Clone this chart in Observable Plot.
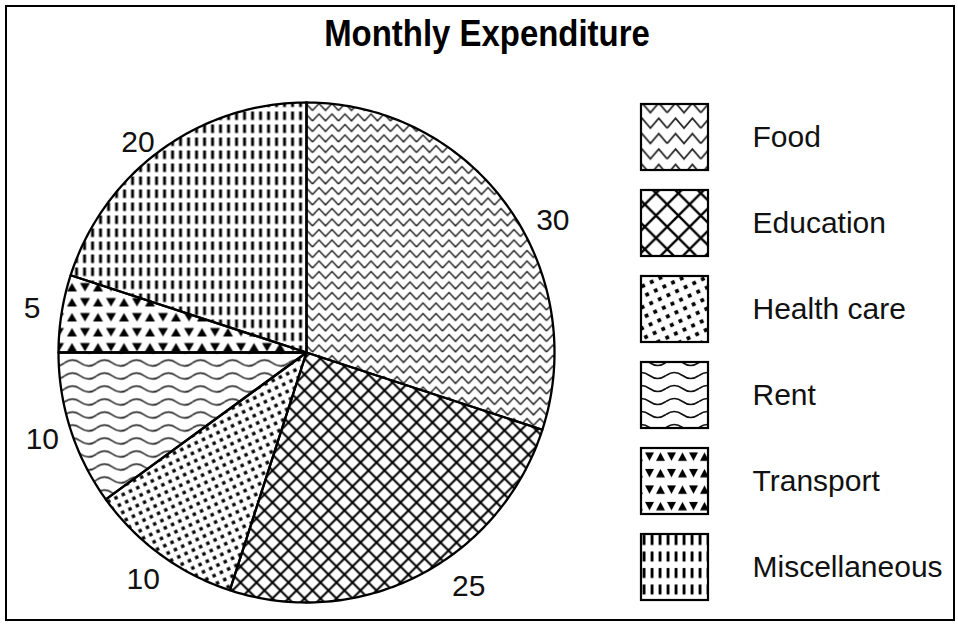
<!DOCTYPE html>
<html>
<head>
<meta charset="utf-8">
<script src="https://cdn.jsdelivr.net/npm/d3@7"></script>
<script src="https://cdn.jsdelivr.net/npm/@observablehq/plot@0.6"></script>
<style>
  body { margin: 0; background: #fff; }
  #wrap { position: relative; width: 958px; height: 624px; overflow: hidden; background: #fff;
          font-family: "Liberation Sans", Arial, sans-serif; }
  #title { position: absolute; top: 13px; left: 487px; transform: translateX(-50%) scaleX(0.89); white-space: nowrap;
           font-size: 37px; font-weight: bold; color: #000; }
  #pie { position: absolute; left: 0; top: 70px; width: 600px; height: 554px; }
  #legend { position: absolute; left: 600px; top: 70px; width: 358px; height: 554px; }
  #border { position: absolute; left: 5px; top: 5px; width: 950px; height: 616px; box-sizing: border-box;
            border: 2px solid #000; pointer-events: none; }
  #defs { position: absolute; width: 0; height: 0; }
</style>
</head>
<body>
<svg id="defs" width="0" height="0">
  <defs>
    <!-- pie patterns -->
    <pattern id="p-food" patternUnits="userSpaceOnUse" width="26" height="10.5">
      <path d="M0,8.5 L6.5,1.5 L13,8.5 L19.5,1.5 L26,8.5" fill="none" stroke="#222" stroke-width="1.5"/>
    </pattern>
    <pattern id="p-edu" patternUnits="userSpaceOnUse" width="16" height="16">
      <path d="M-4,4 L4,-4 M0,16 L16,0 M12,20 L20,12 M-4,12 L4,20 M0,0 L16,16 M12,-4 L20,4" stroke="#000" stroke-width="2"/>
    </pattern>
    <pattern id="p-health" patternUnits="userSpaceOnUse" width="8" height="8" patternTransform="rotate(-25)">
      <rect x="2.4" y="2.4" width="3.4" height="3.4" fill="#000"/>
    </pattern>
    <pattern id="p-rent" patternUnits="userSpaceOnUse" width="32" height="13">
      <path d="M0,6.5 Q8,0.5 16,6.5 T32,6.5" fill="none" stroke="#111" stroke-width="1.5"/>
    </pattern>
    <pattern id="p-trans" patternUnits="userSpaceOnUse" width="26" height="15">
      <path d="M1.5,2.5 L11.5,2.5 L6.5,11 Z M14.5,11 L24.5,11 L19.5,2.5 Z" fill="#000"/>
    </pattern>
    <pattern id="p-misc" patternUnits="userSpaceOnUse" width="8" height="13">
      <rect x="2.6" y="2" width="2.9" height="8.5" fill="#000"/>
    </pattern>
    <!-- legend patterns -->
    <pattern id="l-food" patternUnits="userSpaceOnUse" width="24" height="11" patternTransform="scale(1.4)">
      <path d="M0,8.5 L6,1.5 L12,8.5 L18,1.5 L24,8.5" fill="none" stroke="#222" stroke-width="1.2"/>
    </pattern>
    <pattern id="l-edu" patternUnits="userSpaceOnUse" width="16" height="16" patternTransform="scale(1.4)">
      <path d="M-4,4 L4,-4 M0,16 L16,0 M12,20 L20,12 M-4,12 L4,20 M0,0 L16,16 M12,-4 L20,4" stroke="#000" stroke-width="1.7"/>
    </pattern>
    <pattern id="l-health" patternUnits="userSpaceOnUse" width="9.5" height="9.5" patternTransform="rotate(-25)">
      <rect x="3" y="3" width="3.8" height="3.8" fill="#000"/>
    </pattern>
    <pattern id="l-rent" patternUnits="userSpaceOnUse" width="33" height="13">
      <path d="M0,6.5 Q8.25,0.5 16.5,6.5 T33,6.5" fill="none" stroke="#111" stroke-width="1.6"/>
    </pattern>
    <pattern id="l-trans" patternUnits="userSpaceOnUse" width="22" height="16.5">
      <path d="M1,3 L10,3 L5.5,11.5 Z M12,11.5 L21,11.5 L16.5,3 Z" fill="#000"/>
    </pattern>
    <pattern id="l-misc" patternUnits="userSpaceOnUse" width="8" height="16.5">
      <rect x="2.6" y="3" width="2.9" height="10" fill="#000"/>
    </pattern>
  </defs>
</svg>
<div id="wrap">
  <div id="title">Monthly Expenditure</div>
  <div id="pie"></div>
  <div id="legend"></div>
  <div id="border"></div>
</div>
<script>
// ---- data ----
const categories = ["Food", "Education", "Health care", "Rent", "Transport", "Miscellaneous"];
const values = [30, 25, 10, 10, 5, 20];
const valueLabels = ["30", "25", "10", "10", "5", "20"];
const patternKeys = ["food", "edu", "health", "rent", "trans", "misc"];

// ---- geometry from data ----
const arcs = d3.pie().sort(null).startAngle(0).endAngle(2 * Math.PI)(values);
const slicePoints = [];
arcs.forEach((a, i) => {
  const cat = categories[i];
  slicePoints.push({cat, x: 0, y: 0});
  const n = Math.max(2, Math.ceil((a.endAngle - a.startAngle) / (Math.PI / 180)));
  for (let k = 0; k <= n; k++) {
    const t = a.startAngle + (a.endAngle - a.startAngle) * k / n;
    slicePoints.push({cat, x: Math.sin(t), y: Math.cos(t)});
  }
});
// small label nudges (angle in degrees, radius factor) to follow the reference placement
const labelNudge = {Food: [8, 1.125], Education: [-8, 1.14], Miscellaneous: [-3, 1.08]};
const labelData = arcs.map((a, i) => {
  const [dDeg, r] = labelNudge[categories[i]] || [0, 1.12];
  const mid = (a.startAngle + a.endAngle) / 2 + dDeg * Math.PI / 180;
  return {label: valueLabels[i], x: r * Math.sin(mid), y: r * Math.cos(mid)};
});

const font = '"Liberation Sans", Arial, sans-serif';

const pie = Plot.plot({
  width: 600, height: 554,
  marginLeft: 58, marginRight: 46, marginTop: 32, marginBottom: 22,
  x: {domain: [-1, 1], axis: null},
  y: {domain: [-1, 1], axis: null},
  color: {type: "ordinal", domain: categories, range: patternKeys.map(k => `url(#p-${k})`)},
  style: {background: "transparent", overflow: "visible", fontFamily: font},
  marks: [
    Plot.line(slicePoints, {x: "x", y: "y", z: "cat", fill: "cat", stroke: "#000", strokeWidth: 2.3,
      strokeLinejoin: "round", curve: "linear-closed"}),
    Plot.text(labelData, {x: "x", y: "y", text: "label", fontSize: 30, fill: "#111", fontFamily: font})
  ]
});
document.getElementById("pie").appendChild(pie);

const legend = Plot.plot({
  width: 358, height: 554,
  marginLeft: 41, marginRight: 250, marginTop: 34, marginBottom: 24,
  y: {type: "band", domain: categories, paddingInner: 20 / 86, paddingOuter: 0, axis: null},
  color: {type: "ordinal", domain: categories, range: patternKeys.map(k => `url(#l-${k})`)},
  style: {background: "transparent", overflow: "visible", fontFamily: font},
  marks: [
    Plot.cell(categories, {y: d => d, fill: d => d, stroke: "#000", strokeWidth: 2.2}),
    Plot.text(categories, {y: d => d, text: d => d, frameAnchor: "right", dx: 44, textAnchor: "start",
      fontSize: 30, fill: "#111", fontFamily: font})
  ]
});
document.getElementById("legend").appendChild(legend);
</script>
</body>
</html>
